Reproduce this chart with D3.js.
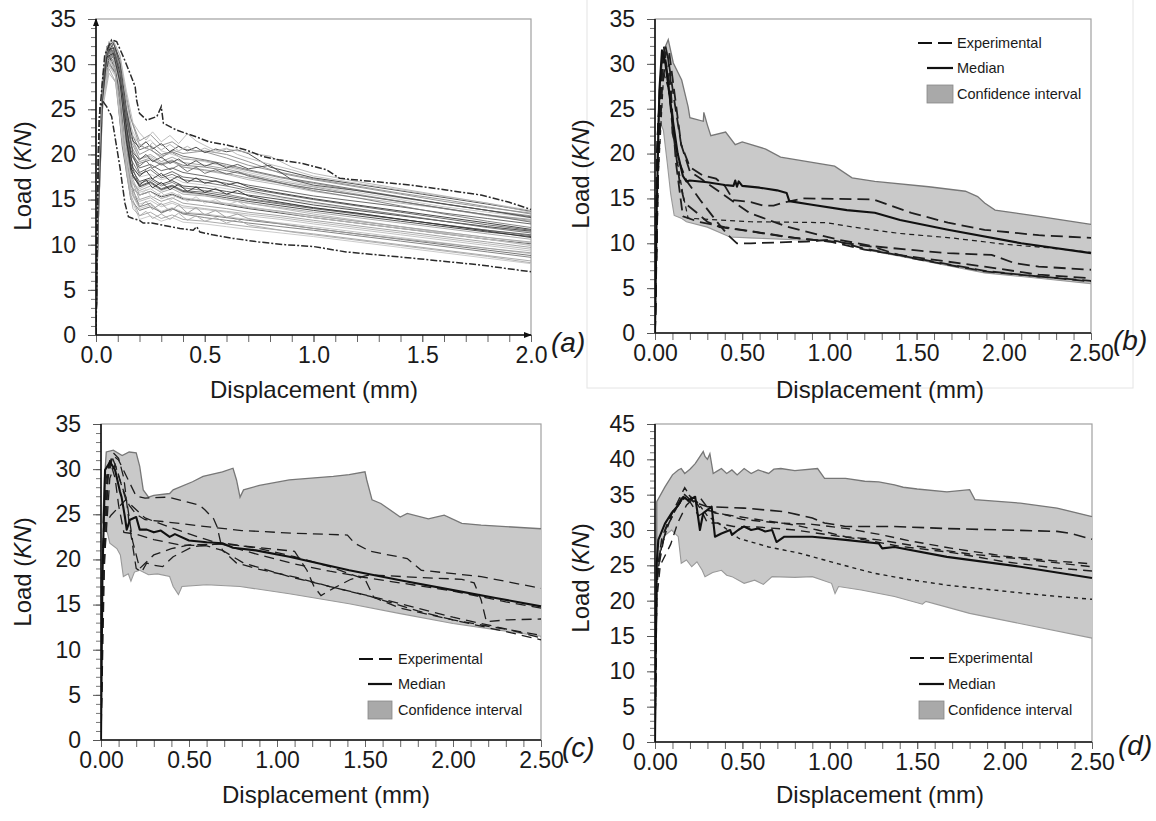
<!DOCTYPE html>
<html><head><meta charset="utf-8">
<script src="https://cdn.jsdelivr.net/npm/d3@7"></script>
<style>
body{margin:0;background:#fff}
svg{display:block}
text{font-family:"Liberation Sans",Arial,Helvetica,sans-serif}
</style>
</head><body>
<svg id="chart" width="1156" height="821"></svg>
<script>
// ---------------- DATA ----------------
const yTicks35 = [0,5,10,15,20,25,30,35];
const yLabels35 = ["0","5","10","15","20","25","30","35"];
const yTicks45 = [0,5,10,15,20,25,30,35,40,45];
const yLabels45 = ["0","5","10","15","20","25","30","35","40","45"];
const xTicksA = [0,0.5,1.0,1.5,2.0];
const xLabelsA = ["0.0","0.5","1.0","1.5","2.0"];
const xTicksB = [0,0.5,1.0,1.5,2.0,2.5];
const xLabelsB = ["0.00","0.50","1.00","1.50","2.00","2.50"];
const legendLabels = ["Experimental","Median","Confidence interval"];

// panel (a): simulated curves on a common displacement grid
const xGridA = [0,0.01,0.03,0.06,0.09,0.12,0.16,0.2,0.25,0.3,0.35,0.4,0.5,0.6,0.7,0.85,1.0,1.2,1.4,1.6,1.8,2.0];
const curvesA = [
 [0,14,27,31.5,32,29,24,21,20.5,19.8,20.2,19.5,19.3,18.7,18.2,17.4,16.8,16,15.2,14.5,13.8,13.2],
 [0,12,26,30.5,31.8,28,22,19.5,19.8,19,19.4,18.6,18.2,17.8,17.2,16.6,15.9,15.2,14.6,14,13.2,12.6],
 [0,15,28,32,31,26,20,18.5,18.9,18.2,18.5,18,17.6,17.1,16.6,16,15.4,14.8,14.2,13.5,12.9,12.3],
 [0,13,27,31,30.5,25,19,17.5,17.8,17.2,17.5,16.9,16.6,16.2,15.8,15.2,14.6,13.9,13.3,12.6,12,11.4],
 [0,16,28.5,32.3,30,24,18,16.8,17.2,16.5,16.9,16.3,16,15.6,15.1,14.6,14.1,13.5,12.8,12.2,11.6,11],
 [0,14,27,30.8,29.5,23,17,16,16.5,15.8,16.2,15.6,15.4,15,14.6,14.1,13.6,13,12.4,11.8,11.2,10.6],
 [0,12,26,30,29,22,16.5,15.5,15.9,15.3,15.6,15.1,14.8,14.4,14,13.5,13,12.4,11.8,11.2,10.6,10.1],
 [0,15,28,31.6,30.2,24,17.5,15,15.4,14.8,15.2,14.6,14.3,14,13.6,13.2,12.7,12.1,11.5,10.9,10.3,9.7],
 [0,13,27,31.2,29.8,23,16,14.5,14.9,14.2,14.6,14.1,13.9,13.6,13.2,12.8,12.3,11.7,11.1,10.5,9.9,9.3],
 [0,14,27.5,31,29,21,15,13.8,14.2,13.6,14,13.5,13.3,13,12.7,12.3,11.8,11.2,10.6,10,9.4,8.8],
 [0,16,28,32.5,31.5,27,22,20,20.6,19.6,20.5,20.1,20.4,20,19.2,17.9,17.2,16.4,15.6,14.8,14.1,13.5],
 [0,12,25,29,28,22,17,16.2,16.8,16,16.4,15.8,15.5,15,14.6,14,13.4,12.7,12,11.3,10.6,9.9],
 [0,14,27,31.4,30.6,26,20.5,18,18.6,17.6,18.1,17.5,17.2,16.8,16.2,15.6,15,14.3,13.6,12.9,12.2,11.6],
 [0,15,28,32,31.2,27.5,23,21,21.6,20.4,20,19.6,19.2,18.6,18,17.2,16.5,15.8,15,14.2,13.6,13],
 [0,13,26,30.2,29,23,16.8,14.2,14.6,13.5,14,13.4,13,12.7,12.4,12,11.6,11,10.4,9.8,9.2,8.6],
 [0,12,25.5,29.5,28,21.5,15.5,13.2,13.6,12.9,13.3,12.8,12.6,12.3,12,11.6,11.2,10.6,10,9.4,8.8,8.2],
 [0,14,27,31,30,24.5,18.5,17,17.4,16.7,17.1,16.5,16.3,15.9,15.5,15,14.4,13.8,13.2,12.6,12,11.5],
 [0,15,28,31.8,31,26.5,21,19.2,19.6,18.8,19.2,18.6,18.3,17.9,17.4,16.8,16.2,15.5,14.8,14,13.3,12.7],
 [0,13,26.5,30.6,29.4,23.5,17.2,15.8,16.2,15.4,15.8,15.2,14.9,14.6,14.2,13.7,13.2,12.6,12,11.4,10.8,10.2],
 [0,14,27,31.3,30.3,25,19.5,17.8,18.3,17.4,17.8,17.2,16.9,16.5,16,15.3,14.7,14,13.3,12.6,11.9,11.3],
 [0,16,28.5,32.2,31.6,28,24,21.5,22.2,21,21.4,20.6,20.3,19.6,18.8,18,17.3,16.5,15.7,15,14.2,13.4],
 [0,12,26,30,28.8,22.5,16.2,14.8,15.2,14.4,14.8,14.3,14,13.7,13.4,13,12.5,11.9,11.3,10.7,10.1,9.5],
 [0,15,27.5,31.7,30.8,25.5,19,16.5,17,16.2,16.6,16,15.8,15.4,15,14.5,14,13.4,12.8,12.2,11.6,11.1],
 [0,13,26,30.4,29.2,22,15.2,12.8,13.2,12.6,13,12.5,12.3,12,11.7,11.3,10.9,10.3,9.7,9.1,8.5,7.9],
 [0,14,27,31,30,25,20,19,19.4,18.9,19.3,18.8,18.6,18.2,17.7,16.8,16,15.2,14.3,13.4,12.6,11.9],
 [0,15,28,32,30.5,24,17.8,15.5,15.9,15.1,15.5,15,14.8,14.5,14.1,13.7,13.2,12.6,12,11.4,10.8,10.3],
 [0,13,26.5,30.8,29.6,24,18.2,16.4,16.9,16.1,16.5,15.9,15.6,15.2,14.8,14.3,13.8,13.2,12.6,12,11.4,10.9],
 [0,14,27.2,31.5,30.4,26,21.5,19.5,20,19.2,19.7,19.1,18.8,18.4,17.8,17,16.4,15.6,14.8,14,13.3,12.8],
 [0,12,25.5,29.8,28.6,22,15.8,14,14.4,13.7,14.1,13.6,13.4,13.1,12.8,12.4,12,11.4,10.8,10.2,9.6,9],
 [0,15,28,31.9,30.9,26.8,22.5,20.5,21,20,20.3,19.8,19.4,18.9,18.3,17.5,16.9,16.1,15.3,14.5,13.8,13.1]
];
// panel (a): noisier curves on a finer grid
const xGridA2 = [0,0.01,0.03,0.05,0.08,0.11,0.14,0.17,0.2,0.23,0.26,0.3,0.34,0.38,0.42,0.46,0.5,0.55,0.6,0.65,0.7,0.8,0.9,1.0,1.2,1.5,1.8,2.0];
const curvesA2 = [
 [0,14,27,31,32.3,30.5,25,21.5,20.8,21.4,20.6,21.2,20.3,20.9,20.4,20.8,20.2,20.6,20.3,20.5,20.1,18.6,18.0,17.4,16.7,15.6,14.5,13.7],
 [0,15,28,31.8,32.5,31,27,23.5,22.4,21.6,22.5,21.4,22.1,21.2,22.3,21.5,21.0,20.4,20.7,20.0,19.6,18.9,18.3,17.6,16.8,15.7,14.6,13.8],
 [0,13,26,30.5,31,28,21,15.5,14.2,14.8,13.9,14.6,13.7,14.4,13.5,14.1,13.3,13.8,13.0,13.4,12.9,12.5,12.1,11.8,11.2,10.4,9.6,9.1],
 [0,14,27.5,31.5,31.8,29,23,18.5,17.6,18.2,17.3,17.9,17.1,17.6,16.9,17.4,16.8,17.1,16.6,16.9,16.4,15.9,15.5,15.1,14.4,13.4,12.4,11.7],
 [0,12,25,29.5,30.6,27.5,20,16.3,15.4,16.1,15.2,15.8,14.9,15.6,14.8,15.3,14.6,15.0,14.4,14.8,14.2,13.8,13.4,13.0,12.4,11.5,10.6,10.0],
 [0,15,28,32,32.4,30,24,20.2,19.4,20.0,19.2,19.7,19.0,19.5,18.8,19.3,18.7,19.1,18.5,18.9,18.4,18.8,17.2,16.6,16.0,14.9,13.8,13.0],
 [0,13,26.5,30.5,30.2,26,18,14,13.2,13.7,12.9,13.4,12.8,13.5,12.7,13.2,12.6,13.0,12.4,12.8,12.2,11.8,11.4,11.1,10.5,9.6,8.7,8.0],
 [0,14,27,31.2,31.6,29.5,24.5,20,18.7,19.3,18.5,19.0,18.3,18.8,18.1,18.6,17.9,18.3,17.8,18.1,17.6,17.1,16.6,16.2,15.5,14.4,13.3,12.5],
 [0,13,26,30.8,31.2,28,21.5,17.5,16.6,17.2,16.3,16.9,16.1,16.7,15.9,16.4,15.8,16.2,15.6,16.0,15.4,14.9,14.5,14.1,13.5,12.5,11.5,10.8],
 [0,16,28.5,32,32.6,31,26,22,21.2,20.6,21.3,20.5,21.1,20.4,20.9,20.3,20.7,20.2,20.6,20.4,20.2,19.8,18.6,17.9,17.0,15.8,14.6,13.6]
];
const envUpperA = [[0,0],[0.005,12],[0.015,24],[0.04,31],[0.072,32.7],[0.095,32.5],[0.126,30.8],[0.156,29.0],[0.18,27.5],[0.187,26.0],[0.2,24.55],[0.233,23.8],[0.28,24.2],[0.3,25.3],[0.31,23.45],[0.37,22.7],[0.417,22.3],[0.46,21.96],[0.52,21.4],[0.61,21.0],[0.69,20.5],[0.77,19.75],[0.84,19.4],[0.95,19.0],[1.06,18.3],[1.12,17.35],[1.275,17.0],[1.45,16.6],[1.61,16.06],[1.77,15.5],[1.9,14.7],[2.0,13.9]];
const envLowerA = [[0,0],[0.003,5],[0.006,12],[0.01,20],[0.018,25.3],[0.034,25.8],[0.049,25.3],[0.072,24.2],[0.087,22.0],[0.11,18.6],[0.133,14.6],[0.149,13.1],[0.17,12.9],[0.2,12.7],[0.217,12.4],[0.256,12.4],[0.386,11.8],[0.447,11.6],[0.463,12.0],[0.478,11.4],[0.536,11.1],[0.63,10.7],[0.75,10.3],[0.87,10.0],[1.0,9.8],[1.15,9.2],[1.46,8.5],[1.77,7.75],[2.0,7.0]];

// panel (b)
const ciUpperB = [[0.01,18],[0.02,24],[0.03,28],[0.05,31.5],[0.076,32.7],[0.105,30.1],[0.153,28.2],[0.19,25.2],[0.2,24.0],[0.277,23.6],[0.28,24.6],[0.3,23.2],[0.32,22.0],[0.405,22.4],[0.46,21.0],[0.5,21.3],[0.635,20.5],[0.72,19.6],[1.03,18.6],[1.13,17.3],[1.26,16.9],[1.57,16.3],[1.78,15.8],[1.85,15.2],[1.89,14.5],[1.95,13.7],[2.2,13.0],[2.5,12.1]];
const ciLowerB = [[0.01,18],[0.02,24],[0.048,22.6],[0.07,19],[0.09,15.5],[0.11,13.1],[0.15,12.8],[0.18,12.4],[0.3,11.8],[0.43,10.7],[0.54,10.6],[0.8,10.4],[1.05,10.2],[1.23,9.2],[1.47,8.3],[1.89,6.7],[2.2,6.1],[2.5,5.5]];
const medianB = [[0,0],[0.01,14],[0.025,27],[0.04,31.5],[0.06,30],[0.08,27],[0.1,24],[0.13,20],[0.16,17.5],[0.18,16.9],[0.2,17.0],[0.3,16.8],[0.4,16.5],[0.45,16.4],[0.46,17.0],[0.47,16.3],[0.48,16.9],[0.5,16.4],[0.6,16.2],[0.7,15.9],[0.755,15.6],[0.77,14.7],[0.9,14.3],[1.1,13.7],[1.26,13.4],[1.405,12.6],[1.68,11.5],[2.1,10.0],[2.5,8.9]];
const expB = [
 [[0,0],[0.02,20],[0.04,29],[0.06,32],[0.08,30],[0.11,26],[0.15,21],[0.2,18.5],[0.27,17.6],[0.35,17.2],[0.4,16.4],[0.45,14.8],[0.55,14.6],[0.62,14.2],[0.68,14.2],[0.75,14.6],[0.85,15.0],[1.25,14.9],[1.35,14.2],[1.47,13.4],[1.68,12.3],[1.89,11.5],[2.2,10.9],[2.5,10.6]],
 [[0,0],[0.015,22],[0.04,30],[0.07,31.5],[0.09,28],[0.1,22.3],[0.14,19],[0.18,17],[0.26,14.8],[0.355,12.4],[0.42,10.9],[0.47,10.0],[0.55,10.0],[0.87,10.2],[1.0,10.4],[1.05,10.2],[1.2,9.4],[1.5,8.3],[1.9,6.9],[2.2,6.3],[2.5,5.8]],
 [[0,0],[0.02,18],[0.05,29],[0.08,27],[0.12,20],[0.16,15.5],[0.19,12.8],[0.55,12.4],[0.98,12.3],[1.14,11.8],[1.4,11.1],[1.7,10.6],[2.0,9.9],[2.25,9.5],[2.5,9.0]],
 [[0,0],[0.01,20],[0.03,28],[0.05,32],[0.07,29],[0.1,23],[0.14,17],[0.17,14.5],[0.24,13.4],[0.3,12.4],[0.37,11.8],[0.49,11.5],[0.755,10.7],[0.9,10.4],[1.06,10.1],[1.25,9.6],[1.4,8.7],[1.47,8.35],[1.89,6.87],[2.5,5.75]],
 [[0,0],[0.02,24],[0.05,31],[0.08,31.5],[0.11,27],[0.15,21],[0.2,18],[0.27,17.1],[0.54,13.4],[0.75,11.9],[1.05,10.4],[1.26,9.65],[1.5,9.2],[1.68,8.9],[1.93,8.7],[2.06,7.8],[2.2,7.4],[2.5,7.05]],
 [[0,0],[0.015,17],[0.04,27],[0.06,30.5],[0.09,27],[0.12,19],[0.16,13],[0.25,12.4],[0.4,11.8],[0.6,11.2],[0.8,10.6],[1.0,10.2],[1.2,9.3],[1.47,8.5],[1.89,7.4],[2.2,6.5],[2.5,6.1]]
];

// panel (c)
const ciUpperC = [[0.01,24],[0.02,29],[0.03,31.9],[0.07,32.1],[0.12,31.5],[0.16,31.9],[0.2,31.8],[0.22,30.3],[0.24,27.7],[0.27,26.9],[0.3,27.1],[0.39,27.3],[0.41,27.7],[0.52,28.6],[0.58,29.2],[0.69,29.7],[0.75,30.1],[0.77,28.8],[0.79,26.9],[0.81,27.7],[0.9,28.2],[1.07,28.8],[1.32,29.2],[1.41,29.4],[1.5,29.7],[1.51,28.8],[1.54,26.6],[1.59,26.2],[1.7,24.7],[1.74,25.1],[1.86,24.5],[1.95,24.9],[2.05,24.0],[2.16,23.8],[2.5,23.4]];
const ciLowerC = [[0.01,24],[0.03,23.5],[0.05,21.8],[0.09,21.2],[0.11,20.5],[0.127,18.1],[0.155,18.4],[0.17,17.6],[0.19,18.6],[0.22,18.8],[0.27,18.3],[0.32,18.4],[0.39,18.1],[0.41,17.0],[0.44,16.1],[0.46,17.0],[0.6,17.2],[0.79,17.0],[1.07,16.2],[1.41,15.1],[1.7,14.0],[2.0,12.9],[2.25,12.2],[2.5,11.5]];
const medianC = [[0,0],[0.008,18],[0.023,29.9],[0.051,30.8],[0.08,29.9],[0.108,27.5],[0.117,26.9],[0.136,24.7],[0.146,23.3],[0.165,24.4],[0.2,24.7],[0.22,23.3],[0.26,23.3],[0.3,23.0],[0.34,23.2],[0.39,22.5],[0.42,22.8],[0.5,22.1],[0.6,21.9],[0.69,21.8],[0.75,21.3],[0.88,21.0],[1.07,20.3],[1.41,18.8],[1.7,17.7],[2.0,16.6],[2.25,15.7],[2.5,14.8]];
const expC = [
 [[0,0],[0.01,20],[0.03,28],[0.06,31.5],[0.09,30],[0.12,28],[0.16,26],[0.2,25],[0.25,24.4],[0.35,24.2],[0.57,23.7],[0.8,23.2],[1.1,22.9],[1.4,22.7],[1.44,21.8],[1.53,20.9],[1.74,20.1],[1.82,18.8],[2.16,18.1],[2.5,16.8]],
 [[0,0],[0.01,18],[0.04,30],[0.07,31.5],[0.1,31],[0.15,29],[0.2,27],[0.25,26.8],[0.38,26.9],[0.56,26.0],[0.59,25.5],[0.64,24.5],[0.66,23.6],[0.69,21.0],[0.81,19.6],[1.07,18.1],[1.3,17.0],[1.6,15.6],[2.0,13.6],[2.3,12.3],[2.5,11.3]],
 [[0,0],[0.02,20],[0.05,29],[0.08,30.5],[0.12,28],[0.15,26],[0.18,22],[0.22,19],[0.3,20.5],[0.4,21.2],[0.5,21.6],[0.7,21.7],[0.9,21.3],[1.1,20.9],[1.17,18.8],[1.21,17.0],[1.25,16.0],[1.32,16.8],[1.42,17.8],[1.53,18.3],[1.8,18.0],[2.05,17.8],[2.12,17.4],[2.16,15.5],[2.19,13.1],[2.3,13.3],[2.5,13.4]],
 [[0,0],[0.01,15],[0.04,29],[0.07,31.8],[0.1,31.2],[0.13,29],[0.16,24],[0.2,19.0],[0.23,18.6],[0.26,19.6],[0.29,19.4],[0.35,19.2],[0.41,20.3],[0.52,21.4],[0.7,21.8],[0.9,21.2],[1.1,20.3],[1.3,19.2],[1.5,17.8],[1.55,15.8],[1.7,14.6],[2.0,13.3],[2.2,12.6],[2.5,11.6]],
 [[0,0],[0.005,18],[0.015,23.6],[0.057,24.9],[0.14,26.6],[0.2,25.5],[0.25,24.6],[0.4,23.5],[0.55,22.5],[0.7,21.6],[0.9,20.5],[1.1,19.5],[1.3,18.7],[1.5,18.0],[1.7,17.4],[2.0,16.5],[2.3,15.3],[2.5,14.6]],
 [[0,0],[0.01,20],[0.03,29],[0.05,31],[0.08,29],[0.1,26],[0.13,23],[0.2,22.8],[0.3,22.2],[0.45,21.6],[0.6,21.5],[0.69,21.0],[0.77,19.6],[0.9,18.9],[1.11,18.0],[1.3,17.0],[1.53,15.9],[1.8,14.3],[2.0,13.3],[2.3,12.0],[2.5,11.1]]
];

// panel (d)
const ciUpperD = [[0.01,23],[0.01,34.0],[0.057,36.1],[0.1,37.8],[0.133,38.5],[0.15,38.7],[0.17,38.0],[0.2,38.6],[0.23,39.4],[0.276,41.1],[0.286,40.4],[0.3,40.0],[0.314,40.8],[0.333,38.0],[0.36,38.4],[0.38,38.7],[0.41,38.0],[0.44,38.5],[0.47,37.8],[0.51,38.7],[0.55,38.0],[0.59,38.5],[0.65,38.0],[0.68,38.6],[0.72,38.7],[0.8,38.4],[0.93,38.7],[0.97,37.3],[1.09,37.3],[1.2,36.9],[1.28,36.8],[1.37,36.4],[1.42,36.05],[1.5,35.8],[1.67,35.4],[1.8,35.7],[1.83,34.3],[2.09,33.8],[2.3,33.1],[2.5,31.9]];
const ciLowerD = [[0.01,23.0],[0.03,27],[0.048,29.05],[0.095,30.0],[0.133,29.05],[0.15,25.3],[0.18,25.75],[0.21,24.8],[0.24,25.5],[0.27,24.3],[0.286,23.4],[0.33,24.0],[0.38,24.3],[0.41,23.6],[0.44,23.4],[0.51,22.45],[0.57,22.9],[0.62,22.3],[0.67,23.4],[0.8,23.3],[0.9,23.4],[1.01,22.45],[1.03,21.0],[1.05,22.0],[1.18,21.5],[1.37,20.6],[1.53,19.5],[1.55,19.9],[1.8,18.2],[2.1,16.7],[2.5,14.7]];
const medianD = [[0,0],[0.005,15],[0.01,25.3],[0.019,28.6],[0.057,30.9],[0.095,32.4],[0.133,33.5],[0.162,34.7],[0.19,34.2],[0.23,34.7],[0.257,30.0],[0.276,32.4],[0.324,33.3],[0.343,29.05],[0.38,29.5],[0.43,30.0],[0.44,29.3],[0.476,30.0],[0.51,30.5],[0.55,30.0],[0.59,30.2],[0.63,29.8],[0.67,30.0],[0.695,28.3],[0.74,29.05],[0.9,29.05],[1.09,28.6],[1.28,28.1],[1.3,27.4],[1.37,27.6],[1.67,26.2],[2.09,24.8],[2.5,23.2]];
const expD = [
 [[0,0],[0.01,22],[0.03,27],[0.07,30.5],[0.12,33],[0.17,35],[0.2,34.3],[0.24,33.8],[0.3,33.3],[0.51,33.1],[0.74,32.6],[0.9,31.7],[0.97,31.0],[1.09,30.5],[1.37,30.5],[1.67,30.2],[2.0,30.0],[2.3,29.8],[2.38,29.5],[2.5,28.7]],
 [[0,0],[0.01,24],[0.04,29],[0.08,31.5],[0.13,34],[0.17,36.0],[0.22,34],[0.26,34.5],[0.3,33.2],[0.343,32.4],[0.476,31.9],[0.61,31.4],[0.8,30.7],[0.93,30.0],[1.09,29.05],[1.28,28.6],[1.5,27.7],[1.8,26.6],[2.1,25.9],[2.5,24.8]],
 [[0,0],[0.01,23],[0.03,26],[0.06,30],[0.1,32.5],[0.15,34.5],[0.2,34],[0.25,32],[0.3,32.8],[0.35,32.5],[0.5,31.5],[0.7,31.0],[0.9,30.8],[1.1,30.2],[1.3,29.3],[1.45,28.5],[1.7,27.4],[2.0,26.3],[2.3,25.6],[2.5,25.2]],
 [[0,0],[0.01,20],[0.03,25],[0.05,26],[0.09,28],[0.13,31],[0.18,33.5],[0.22,34.5],[0.26,33],[0.3,31],[0.35,31],[0.45,30.5],[0.6,30.4],[0.8,30.0],[1.0,29.3],[1.2,28.6],[1.4,27.7],[1.7,26.8],[2.0,25.5],[2.3,24.6],[2.5,24.2]],
 [[0,0],[0.01,23],[0.04,28],[0.08,31],[0.13,33.5],[0.19,35],[0.24,34],[0.3,32],[0.4,30.3],[0.48,28.8],[0.65,27.6],[0.83,26.7],[1.05,25.2],[1.25,23.9],[1.45,23.0],[1.67,22.2],[2.09,21.1],[2.3,20.6],[2.5,20.2]]
];

// ---------------- DRAWING ----------------
const svg = d3.select("#chart");
const FONT = '"Liberation Sans",Arial,sans-serif';

const panels = [
 {key:"a", left:96, right:531, top:19, bottom:335, xMax:2.0, yMax:35, yTicks:yTicks35, yLabels:yLabels35, xTicks:xTicksA, xLabels:xLabelsA,
  titleX:314, titleY:398, loadX:31, loadY:176, tag:"(a)", tagX:551, tagY:352, arrows:true},
 {key:"b", left:655, right:1091, top:19, bottom:333, xMax:2.5, yMax:35, yTicks:yTicks35, yLabels:yLabels35, xTicks:xTicksB, xLabels:xLabelsB,
  titleX:880, titleY:398, loadX:589, loadY:174, tag:"(b)", tagX:1113, tagY:350,
  ciU:ciUpperB, ciL:ciLowerB, med:medianB, exp:expB, dash:["12,6","12,6","5,4","12,6","12,6","12,6"], expW:[1.8,1.8,1.2,1.8,1.8,1.8],
  legend:{lx0:918, lx1:953, mx0:927, tx:957, y:[43,68,94]}},
 {key:"c", left:101, right:541, top:424, bottom:740, xMax:2.5, yMax:35, yTicks:yTicks35, yLabels:yLabels35, xTicks:xTicksB, xLabels:xLabelsB,
  titleX:326, titleY:803, loadX:31, loadY:572, tag:"(c)", tagX:562, tagY:757,
  ciU:ciUpperC, ciL:ciLowerC, med:medianC, exp:expC, dash:["10,6","10,6","10,6","10,6","10,6","10,6"], expW:[1.3,1.3,1.3,1.3,1.3,1.3],
  legend:{lx0:359, lx1:392, mx0:368, tx:398, y:[659,684,710]}},
 {key:"d", left:655, right:1092, top:424, bottom:742, xMax:2.5, yMax:45, yTicks:yTicks45, yLabels:yLabels45, xTicks:xTicksB, xLabels:xLabelsB,
  titleX:880, titleY:803, loadX:589, loadY:578, tag:"(d)", tagX:1118, tagY:755,
  ciU:ciUpperD, ciL:ciLowerD, med:medianD, exp:expD, dash:["12,6","9,6","9,6","9,6","4,4"], expW:[1.6,1.4,1.4,1.4,1.4],
  legend:{lx0:910, lx1:944, mx0:919, tx:948, y:[658,684,710]}}
];

// faint frame around panel (b)
svg.append("rect").attr("x",587).attr("y",-1).attr("width",546).attr("height",389)
  .attr("fill","none").attr("stroke","#e4e4e4").attr("stroke-width",1);

const shadeA = ["#8c8c8c","#b0b0b0","#5a5a5a","#c6c6c6","#777777","#a2a2a2","#404040","#9a9a9a","#bdbdbd","#6a6a6a"];
const shadeA2 = ["#3c3c3c","#b8b8b8","#9a9a9a","#333333","#c2c2c2","#4a4a4a","#a8a8a8","#6a6a6a","#2e2e2e","#b0b0b0"];

panels.forEach(p => {
  const x = d3.scaleLinear().domain([0,p.xMax]).range([p.left,p.right]);
  const y = d3.scaleLinear().domain([0,p.yMax]).range([p.bottom,p.top]);
  const g = svg.append("g");
  const clipId = "clip-"+p.key;
  svg.append("clipPath").attr("id",clipId).append("rect")
    .attr("x",p.left).attr("y",p.top-2).attr("width",p.right-p.left+1).attr("height",p.bottom-p.top+2);

  // frame
  g.append("rect").attr("x",p.left).attr("y",p.top).attr("width",p.right-p.left).attr("height",p.bottom-p.top)
    .attr("fill","none").attr("stroke","#a0a0a0").attr("stroke-width",1.2);

  const plot = g.append("g").attr("clip-path",`url(#${clipId})`);
  const line = d3.line().x(d=>x(d[0])).y(d=>y(d[1]));

  if (p.key === "a") {
    curvesA.forEach((c,i) => {
      const pts = xGridA.map((xv,j)=>[xv,c[j]]);
      plot.append("path").attr("d",line(pts)).attr("fill","none")
        .attr("stroke",shadeA[i%shadeA.length]).attr("stroke-width",0.9);
    });
    curvesA2.forEach((c,i) => {
      const pts = xGridA2.map((xv,j)=>[xv,c[j]]);
      plot.append("path").attr("d",line(pts)).attr("fill","none")
        .attr("stroke",shadeA2[i%shadeA2.length]).attr("stroke-width",0.9);
    });
    [envUpperA, envLowerA].forEach(env => {
      plot.append("path").attr("d",line(env)).attr("fill","none")
        .attr("stroke","#2a2a2a").attr("stroke-width",1.5).attr("stroke-dasharray","7,2,2,2");
    });
  } else {
    const poly = p.ciU.concat(p.ciL.slice().reverse());
    plot.append("path").attr("d",line(poly)+"Z").attr("fill","#c9c9c9").attr("stroke","none");
    plot.append("path").attr("d",line(p.ciU)).attr("fill","none").attr("stroke","#777").attr("stroke-width",1.3);
    plot.append("path").attr("d",line(p.ciL)).attr("fill","none").attr("stroke","#999").attr("stroke-width",1.1);
    p.exp.forEach((s,i) => {
      plot.append("path").attr("d",line(s)).attr("fill","none").attr("stroke","#1e1e1e")
        .attr("stroke-width",p.expW[i]).attr("stroke-dasharray",p.dash[i]);
    });
    plot.append("path").attr("d",line(p.med)).attr("fill","none").attr("stroke","#111")
      .attr("stroke-width",2.1).attr("stroke-linejoin","round");
  }

  // minor y ticks
  const yMinor = d3.range(0,p.yMax+0.5,1);
  g.append("g").attr("transform",`translate(${p.left},0)`)
    .call(d3.axisLeft(y).tickValues(yMinor).tickSize(5).tickFormat(""))
    .call(s=>s.select(".domain").remove())
    .selectAll("line").attr("stroke","#777");
  // major y ticks + labels
  const ya = g.append("g").attr("transform",`translate(${p.left},0)`)
    .call(d3.axisLeft(y).tickValues(p.yTicks).tickSize(8).tickPadding(12).tickFormat((d,i)=>p.yLabels[i]));
  ya.select(".domain").remove();
  ya.selectAll("line").attr("stroke","#555");
  ya.selectAll("text").attr("font-size",23).attr("font-family",FONT).attr("fill","#1a1a1a");

  // x ticks
  const xMinor = d3.range(0,p.xMax+0.001,0.1);
  g.append("g").attr("transform",`translate(0,${p.bottom})`)
    .call(d3.axisBottom(x).tickValues(xMinor).tickSize(7).tickFormat(""))
    .call(s=>s.select(".domain").remove())
    .selectAll("line").attr("stroke","#666");
  const xa = g.append("g").attr("transform",`translate(0,${p.bottom})`)
    .call(d3.axisBottom(x).tickValues(p.xTicks).tickSize(7).tickPadding(5).tickFormat((d,i)=>p.xLabels[i]));
  xa.select(".domain").remove();
  xa.selectAll("line").attr("stroke","#666");
  xa.selectAll("text").attr("font-size",23).attr("font-family",FONT).attr("fill","#1a1a1a");

  // axis lines
  g.append("line").attr("x1",p.left).attr("x2",p.left).attr("y1",p.bottom).attr("y2",p.top)
    .attr("stroke","#111").attr("stroke-width",1.6);
  g.append("line").attr("x1",p.left).attr("x2",p.right).attr("y1",p.bottom).attr("y2",p.bottom)
    .attr("stroke","#111").attr("stroke-width",1.4);
  if (p.arrows) {
    g.append("path").attr("d",`M${p.left-3},${p.top+7}L${p.left},${p.top-1}L${p.left+3},${p.top+7}Z`).attr("fill","#111");
    g.append("path").attr("d",`M${p.right-7},${p.bottom-3}L${p.right+1},${p.bottom}L${p.right-7},${p.bottom+3}Z`).attr("fill","#111");
  }

  // axis titles
  svg.append("text").attr("x",p.titleX).attr("y",p.titleY).attr("text-anchor","middle")
    .attr("font-size",24).attr("font-family",FONT).attr("fill","#1a1a1a").text("Displacement (mm)");
  const lt = svg.append("text").attr("transform",`translate(${p.loadX},${p.loadY}) rotate(-90)`)
    .attr("text-anchor","middle").attr("font-size",24).attr("font-family",FONT).attr("fill","#1a1a1a");
  lt.append("tspan").text("Load (");
  lt.append("tspan").attr("font-style","italic").text("KN");
  lt.append("tspan").text(")");

  // panel tag
  svg.append("text").attr("x",p.tagX).attr("y",p.tagY).attr("font-size",28)
    .attr("font-family",'"Liberation Serif","Times New Roman",serif').attr("font-style","italic")
    .attr("fill","#1a1a1a").text(p.tag);

  // legend
  if (p.legend) {
    const L = p.legend;
    const lg = svg.append("g");
    lg.append("line").attr("x1",L.lx0).attr("x2",L.lx1).attr("y1",L.y[0]).attr("y2",L.y[0])
      .attr("stroke","#111").attr("stroke-width",2.2).attr("stroke-dasharray","14,6");
    lg.append("line").attr("x1",L.mx0).attr("x2",L.lx1).attr("y1",L.y[1]).attr("y2",L.y[1])
      .attr("stroke","#111").attr("stroke-width",2.2);
    lg.append("rect").attr("x",L.mx0).attr("y",L.y[2]-9).attr("width",L.lx1-L.mx0).attr("height",18)
      .attr("fill","#a9a9a9").attr("stroke","#888").attr("stroke-width",0.8);
    legendLabels.forEach((t,i)=>{
      lg.append("text").attr("x",L.tx).attr("y",L.y[i]).attr("dy","0.35em")
        .attr("font-size",14.5).attr("font-family",FONT).attr("fill","#1a1a1a").text(t);
    });
  }
});
</script>
</body></html>
